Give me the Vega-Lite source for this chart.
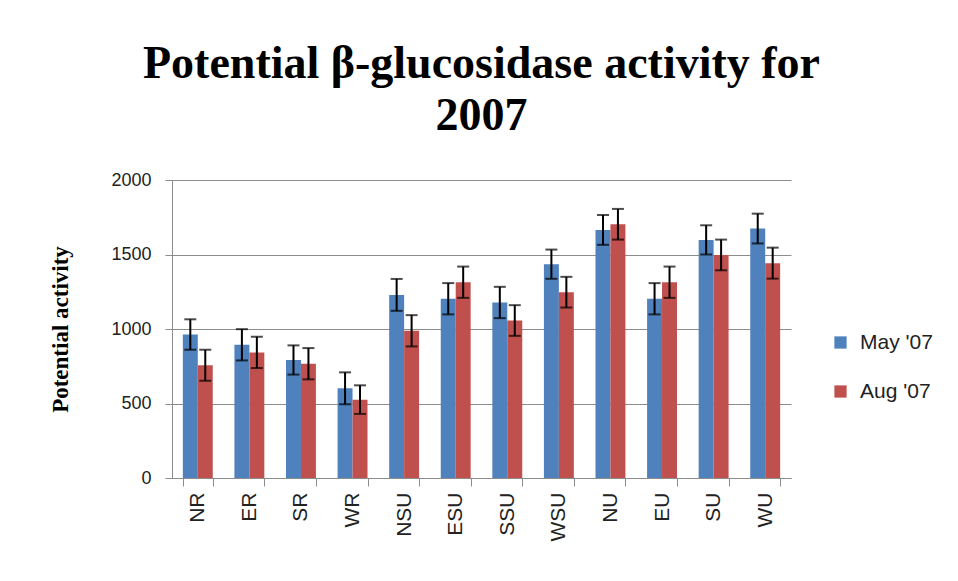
{
  "$schema": "https://vega.github.io/schema/vega-lite/v6.json",
  "autosize": "none",
  "width": 619,
  "height": 298,
  "padding": {"left": 172, "top": 180, "right": 167, "bottom": 103},
  "background": "white",
  "title": {
    "text": ["Potential β-glucosidase activity for", "2007"],
    "font": "Liberation Serif",
    "fontSize": 46,
    "fontWeight": "bold",
    "color": "black",
    "lineHeight": 52,
    "offset": 31,
    "anchor": "middle"
  },
  "data": {
    "values": [
      {"site": "NR", "month": "May '07", "value": 963, "err": 102},
      {"site": "NR", "month": "Aug '07", "value": 756, "err": 104},
      {"site": "ER", "month": "May '07", "value": 894, "err": 105},
      {"site": "ER", "month": "Aug '07", "value": 843, "err": 105},
      {"site": "SR", "month": "May '07", "value": 792, "err": 98},
      {"site": "SR", "month": "Aug '07", "value": 767, "err": 105},
      {"site": "WR", "month": "May '07", "value": 602, "err": 107},
      {"site": "WR", "month": "Aug '07", "value": 526, "err": 96},
      {"site": "NSU", "month": "May '07", "value": 1229, "err": 107},
      {"site": "NSU", "month": "Aug '07", "value": 988, "err": 105},
      {"site": "ESU", "month": "May '07", "value": 1203, "err": 105},
      {"site": "ESU", "month": "Aug '07", "value": 1314, "err": 105},
      {"site": "SSU", "month": "May '07", "value": 1178, "err": 105},
      {"site": "SSU", "month": "Aug '07", "value": 1057, "err": 103},
      {"site": "WSU", "month": "May '07", "value": 1435, "err": 98},
      {"site": "WSU", "month": "Aug '07", "value": 1247, "err": 103},
      {"site": "NU", "month": "May '07", "value": 1665, "err": 100},
      {"site": "NU", "month": "Aug '07", "value": 1703, "err": 103},
      {"site": "EU", "month": "May '07", "value": 1203, "err": 105},
      {"site": "EU", "month": "Aug '07", "value": 1314, "err": 105},
      {"site": "SU", "month": "May '07", "value": 1598, "err": 98},
      {"site": "SU", "month": "Aug '07", "value": 1497, "err": 103},
      {"site": "WU", "month": "May '07", "value": 1674, "err": 100},
      {"site": "WU", "month": "Aug '07", "value": 1442, "err": 104}
    ]
  },
  "transform": [
    {"calculate": "datum.value - datum.err", "as": "lo"},
    {"calculate": "datum.value + datum.err", "as": "hi"}
  ],
  "encoding": {
    "x": {
      "field": "site",
      "type": "nominal",
      "sort": null,
      "scale": {"paddingInner": 0.42, "paddingOuter": 0.21},
      "axis": {
        "title": null,
        "labelAngle": -90,
        "labelFont": "Liberation Sans",
        "labelFontSize": 21,
        "labelColor": "#222222",
        "labelPadding": 6,
        "domainColor": "#8c8c8c",
        "tickColor": "#8c8c8c",
        "tickSize": 8,
        "tickBand": "extent",
        "grid": false
      }
    },
    "xOffset": {"field": "month", "type": "nominal", "sort": ["May '07", "Aug '07"]}
  },
  "layer": [
    {
      "mark": {"type": "bar"},
      "encoding": {
        "y": {
          "field": "value",
          "type": "quantitative",
          "scale": {"domain": [0, 2000]},
          "axis": {
            "title": "Potential  activity",
            "titleFont": "Liberation Serif",
            "titleFontSize": 23,
            "titleFontWeight": "bold",
            "titleColor": "black",
            "titlePadding": 38,
            "values": [0, 500, 1000, 1500, 2000],
            "format": "d",
            "labelFont": "Liberation Sans",
            "labelFontSize": 18,
            "labelColor": "#222222",
            "labelPadding": 14,
            "domainColor": "#8c8c8c",
            "tickColor": "#8c8c8c",
            "tickSize": 7,
            "gridColor": "#8c8c8c",
            "gridOpacity": 1
          }
        },
        "color": {
          "field": "month",
          "type": "nominal",
          "sort": ["May '07", "Aug '07"],
          "scale": {"domain": ["May '07", "Aug '07"], "range": ["#4F81BD", "#C0504D"]},
          "legend": {
            "title": null,
            "orient": "none",
            "legendX": 658,
            "legendY": 152,
            "symbolType": "square",
            "symbolSize": 150,
            "labelFont": "Liberation Sans",
            "labelFontSize": 21,
            "labelColor": "#222222",
            "rowPadding": 27,
            "labelOffset": 9
          }
        }
      }
    },
    {
      "mark": {"type": "rule", "color": "black", "strokeWidth": 2},
      "encoding": {
        "y": {"field": "lo", "type": "quantitative"},
        "y2": {"field": "hi"}
      }
    },
    {
      "mark": {"type": "tick", "color": "black", "thickness": 2, "size": 12, "orient": "horizontal"},
      "encoding": {
        "y": {"field": "lo", "type": "quantitative"}
      }
    },
    {
      "mark": {"type": "tick", "color": "black", "thickness": 2, "size": 12, "orient": "horizontal"},
      "encoding": {
        "y": {"field": "hi", "type": "quantitative"}
      }
    }
  ],
  "config": {
    "view": {"stroke": null}
  }
}
